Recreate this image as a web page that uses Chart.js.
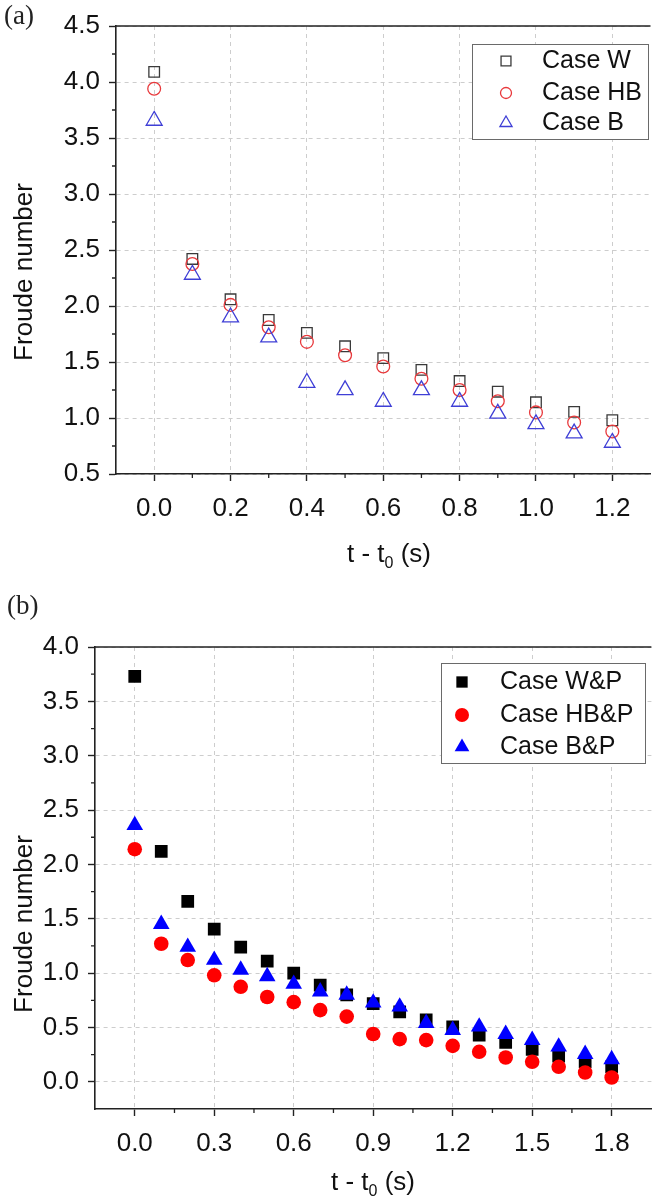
<!DOCTYPE html>
<html>
<head>
<meta charset="utf-8">
<script src="https://cdn.jsdelivr.net/npm/chart.js@4.4.1/dist/chart.umd.min.js"></script>
<style>
  body { margin: 0; background: #fff; }
  #wrap { position: relative; width: 661px; height: 1200px; overflow: hidden; }
  canvas { position: absolute; left: 0; }
  #chartA { top: 0; }
  #chartB { top: 590px; }
  .tag { position: absolute; font-family: "Liberation Serif", serif; font-size: 27px; color: #222; }
</style>
</head>
<body>
<div id="wrap">
  <canvas id="chartA" width="661" height="575"></canvas>
  <canvas id="chartB" width="661" height="610"></canvas>
  <div class="tag" style="left:4px; top:0px">(a)</div>
  <div class="tag" style="left:7px; top:590px">(b)</div>
</div>

<script>
// ---- data, panel (a) ----
const tA = [0, 0.1, 0.2, 0.3, 0.4, 0.5, 0.6, 0.7, 0.8, 0.9, 1.0, 1.1, 1.2];
const caseW  = [4.09, 2.42, 2.06, 1.875, 1.76, 1.64, 1.535, 1.43, 1.33, 1.235, 1.14, 1.055, 0.98];
const caseHB = [3.94, 2.375, 2.01, 1.81, 1.68, 1.56, 1.46, 1.35, 1.25, 1.15, 1.05, 0.96, 0.88];
const caseB  = [3.655, 2.28, 1.90, 1.72, 1.315, 1.25, 1.146, 1.25, 1.146, 1.04, 0.946, 0.863, 0.78];
const xTicksA = [0, 0.2, 0.4, 0.6, 0.8, 1.0, 1.2];
const yTicksA = [0.5, 1.0, 1.5, 2.0, 2.5, 3.0, 3.5, 4.0, 4.5];
const xMinorA = [0.1, 0.3, 0.5, 0.7, 0.9, 1.1];
const yMinorA = [0.75, 1.25, 1.75, 2.25, 2.75, 3.25, 3.75, 4.25];

// ---- data, panel (b) ----
const tB = [0, 0.1, 0.2, 0.3, 0.4, 0.5, 0.6, 0.7, 0.8, 0.9, 1.0, 1.1, 1.2, 1.3, 1.4, 1.5, 1.6, 1.7, 1.8];
const caseWP  = [3.73, 2.12, 1.66, 1.405, 1.24, 1.11, 1.0, 0.89, 0.80, 0.72, 0.644, 0.57, 0.506, 0.43, 0.362, 0.298, 0.236, 0.184, 0.138];
const caseHBP = [2.14, 1.27, 1.12, 0.98, 0.874, 0.78, 0.733, 0.66, 0.60, 0.44, 0.393, 0.384, 0.331, 0.276, 0.224, 0.184, 0.138, 0.086, 0.04];
const caseBP  = [2.36, 1.45, 1.24, 1.12, 1.03, 0.97, 0.90, 0.83, 0.80, 0.727, 0.69, 0.54, 0.476, 0.506, 0.439, 0.384, 0.322, 0.255, 0.206];
const xTicksB = [0, 0.3, 0.6, 0.9, 1.2, 1.5, 1.8];
const yTicksB = [0, 0.5, 1.0, 1.5, 2.0, 2.5, 3.0, 3.5, 4.0];
const xMinorB = [0.15, 0.45, 0.75, 1.05, 1.35, 1.65];
const yMinorB = [0.25, 0.75, 1.25, 1.75, 2.25, 2.75, 3.25, 3.75];

const Y_TITLE = 'Froude number';
const X_TITLE = ['t - t', '0', ' (s)']; // main, subscript, rest

const FONT = '"Liberation Sans", Arial, sans-serif';
const AXIS = '#222';
const TEXT = '#111';

function pairs(xs, ys) {
  return xs.map((x, i) => ({ x: x, y: ys[i] }));
}

function axisX(min, max, ticks, height) {
  return {
    type: 'linear', min: min, max: max,
    afterBuildTicks: s => { s.ticks = ticks.map(v => ({ value: v })); },
    afterFit: s => { s.height = height; },
    ticks: { font: { family: FONT, size: 26 }, color: TEXT, padding: 12, autoSkip: false, maxRotation: 0,
             callback: v => v.toFixed(1) },
    grid: { color: '#cdcdcd', lineWidth: 1, tickLength: 7, tickColor: AXIS, tickWidth: 1.4 },
    border: { color: AXIS, width: 1.6, dash: [4, 4] }
  };
}

function axisY(min, max, ticks, width) {
  return {
    type: 'linear', min: min, max: max,
    afterBuildTicks: s => { s.ticks = ticks.map(v => ({ value: v })); },
    afterFit: s => { s.width = width; },
    ticks: { font: { family: FONT, size: 26 }, color: TEXT, padding: 9, autoSkip: false,
             callback: v => v.toFixed(1) },
    grid: { color: '#cdcdcd', lineWidth: 1, tickLength: 7, tickColor: AXIS, tickWidth: 1.4 },
    border: { color: AXIS, width: 1.6, dash: [4, 4] }
  };
}

// frame top line, minor ticks, axis titles and the boxed legend
function decor(cfg) {
  return {
    id: 'decor',
    afterDraw(chart) {
      const ctx = chart.ctx;
      const area = chart.chartArea;
      const sx = chart.scales.x, sy = chart.scales.y;
      ctx.save();

      ctx.strokeStyle = AXIS;
      ctx.lineWidth = 1.6;
      ctx.beginPath();
      ctx.moveTo(area.left, area.top);
      ctx.lineTo(area.right, area.top);
      ctx.stroke();

      ctx.lineWidth = 1.3;
      ctx.beginPath();
      cfg.minorX.forEach(v => {
        const x = sx.getPixelForValue(v);
        ctx.moveTo(x, area.bottom);
        ctx.lineTo(x, area.bottom + 4);
      });
      cfg.minorY.forEach(v => {
        const y = sy.getPixelForValue(v);
        ctx.moveTo(area.left, y);
        ctx.lineTo(area.left - 4, y);
      });
      ctx.stroke();

      // y title
      ctx.fillStyle = TEXT;
      ctx.font = '26px ' + FONT;
      ctx.textBaseline = 'middle';
      ctx.textAlign = 'center';
      ctx.save();
      ctx.translate(cfg.yTitle[0], cfg.yTitle[1]);
      ctx.rotate(-Math.PI / 2);
      ctx.fillText(Y_TITLE, 0, 0);
      ctx.restore();

      // x title with subscript
      const subFont = '16px ' + FONT;
      ctx.font = '26px ' + FONT;
      const w1 = ctx.measureText(X_TITLE[0]).width;
      const w3 = ctx.measureText(X_TITLE[2]).width;
      ctx.font = subFont;
      const w2 = ctx.measureText(X_TITLE[1]).width;
      let x0 = cfg.xTitle[0] - (w1 + w2 + w3) / 2;
      const yT = cfg.xTitle[1];
      ctx.textAlign = 'left';
      ctx.font = '26px ' + FONT;
      ctx.fillText(X_TITLE[0], x0, yT);
      ctx.font = subFont;
      ctx.fillText(X_TITLE[1], x0 + w1, yT + 9);
      ctx.font = '26px ' + FONT;
      ctx.fillText(X_TITLE[2], x0 + w1 + w2, yT);

      // legend
      const L = cfg.legend;
      ctx.fillStyle = '#fff';
      ctx.fillRect(L.box[0], L.box[1], L.box[2], L.box[3]);
      ctx.strokeStyle = '#6a6a6a';
      ctx.lineWidth = 1;
      ctx.strokeRect(L.box[0] + 0.5, L.box[1] + 0.5, L.box[2], L.box[3]);
      chart.data.datasets.forEach((ds, i) => {
        const y = L.rows[i];
        ctx.fillStyle = ds.backgroundColor;
        ctx.strokeStyle = ds.borderColor;
        ctx.lineWidth = ds.borderWidth;
        Chart.helpers.drawPoint(ctx, { pointStyle: ds.pointStyle, radius: L.radius[i], rotation: 0, borderWidth: ds.borderWidth }, L.symX, y);
        ctx.fillStyle = TEXT;
        ctx.font = '25px ' + FONT;
        ctx.textAlign = 'left';
        ctx.textBaseline = 'middle';
        ctx.fillText(ds.label, L.textX, y);
      });

      ctx.restore();
    }
  };
}

new Chart(document.getElementById('chartA'), {
  type: 'scatter',
  data: {
    datasets: [
      { label: 'Case W', data: pairs(tA, caseW), pointStyle: 'rect', pointRadius: 7.5,
        borderColor: '#3a3a3a', backgroundColor: 'rgba(0,0,0,0)', borderWidth: 1.3, order: 2 },
      { label: 'Case HB', data: pairs(tA, caseHB), pointStyle: 'circle', pointRadius: 6.4,
        borderColor: '#e8393c', backgroundColor: 'rgba(0,0,0,0)', borderWidth: 1.3, order: 1 },
      { label: 'Case B', data: pairs(tA, caseB), pointStyle: 'triangle', pointRadius: 9.2,
        borderColor: '#3f3fd6', backgroundColor: 'rgba(0,0,0,0)', borderWidth: 1.3, order: 0 }
    ]
  },
  options: {
    responsive: false,
    animation: false,
    layout: { padding: { top: 26, left: 0, right: 0, bottom: 0 } },
    plugins: { legend: { display: false }, tooltip: { enabled: false } },
    scales: {
      x: axisX(-0.1, 1.3, xTicksA, 101),
      y: axisY(0.5, 4.5, yTicksA, 116)
    }
  },
  plugins: [decor({
    minorX: xMinorA, minorY: yMinorA,
    yTitle: [25, 272], xTitle: [389, 555],
    legend: { box: [472, 44, 176, 95], rows: [61, 93, 123], symX: 506, textX: 542, radius: [7, 5.5, 7] }
  })]
});

new Chart(document.getElementById('chartB'), {
  type: 'scatter',
  data: {
    datasets: [
      { label: 'Case W&P', data: pairs(tB, caseWP), pointStyle: 'rect', pointRadius: 9,
        borderColor: '#000', backgroundColor: '#000', borderWidth: 0, order: 2 },
      { label: 'Case HB&P', data: pairs(tB, caseHBP), pointStyle: 'circle', pointRadius: 7.3,
        borderColor: '#ff0000', backgroundColor: '#ff0000', borderWidth: 0, order: 1 },
      { label: 'Case B&P', data: pairs(tB, caseBP), pointStyle: 'triangle', pointRadius: 9.6,
        borderColor: '#0000ff', backgroundColor: '#0000ff', borderWidth: 0, order: 0 }
    ]
  },
  options: {
    responsive: false,
    animation: false,
    layout: { padding: { top: 57, left: 0, right: 0, bottom: 0 } },
    plugins: { legend: { display: false }, tooltip: { enabled: false } },
    scales: {
      x: axisX(-0.15, 1.95, xTicksB, 91),
      y: axisY(-0.25, 4.0, yTicksB, 95)
    }
  },
  plugins: [decor({
    minorX: xMinorB, minorY: yMinorB,
    yTitle: [25, 334], xTitle: [373, 593],
    legend: { box: [441, 73, 204, 100], rows: [92, 125, 157], symX: 462, textX: 500, radius: [8, 7, 8.5] }
  })]
});
</script>
</body>
</html>
